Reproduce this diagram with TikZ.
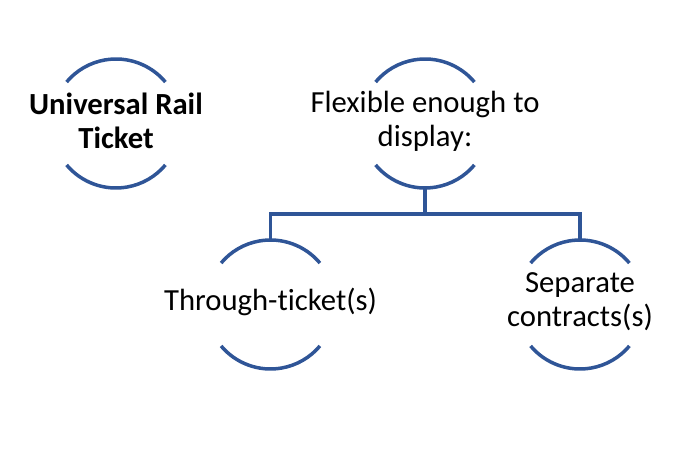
\documentclass[tikz,border=0pt]{standalone}
\usepackage{fontspec}
\setmainfont[RawFeature={-liga;-clig}]{Carlito}
\definecolor{arcblue}{RGB}{47,85,151}
\begin{document}
\begin{tikzpicture}[x=1bp,y=1bp,
  ring/.style={circle,minimum size=129bp,inner sep=0pt,outer sep=0pt},
  label/.style={align=center,inner sep=0pt,yshift=2.5bp,font=\fontsize{30.8}{34.2}\selectfont,text=black},
  arcline/.style={draw=arcblue,line width=3.5bp},
  conn/.style={draw=arcblue,line width=3.5bp}]
\useasboundingbox (0,0) rectangle (700,-465);
\node[ring] (c1) at (116,-123.5) {};
\node[ring] (c2) at (425,-123.5) {};
\node[ring] (c3) at (270.5,-304.5) {};
\node[ring] (c4) at (580,-304.5) {};
\node[label,font=\fontsize{30.8}{34.2}\selectfont\bfseries] (t1) at (c1) {Universal Rail\\Ticket};
\node[label] (t2) at (c2) {Flexible enough to\\display:};
\node[label] (t3) at (c3) {Through-ticket(s)};
\node[label] (t4) at (c4) {Separate\\contracts(s)};
\foreach \n in {c1,c2,c3,c4}{
  \draw[arcline] (\n.40) arc[start angle=40,end angle=140,radius=64.5];
  \draw[arcline] (\n.220) arc[start angle=220,end angle=320,radius=64.5];
}
\coordinate (j) at (425,-214);
\draw[conn] (c2.south) -- (j);
\draw[conn,line join=miter] (c3.north) |- (j) -| (c4.north);
\end{tikzpicture}
\end{document}
